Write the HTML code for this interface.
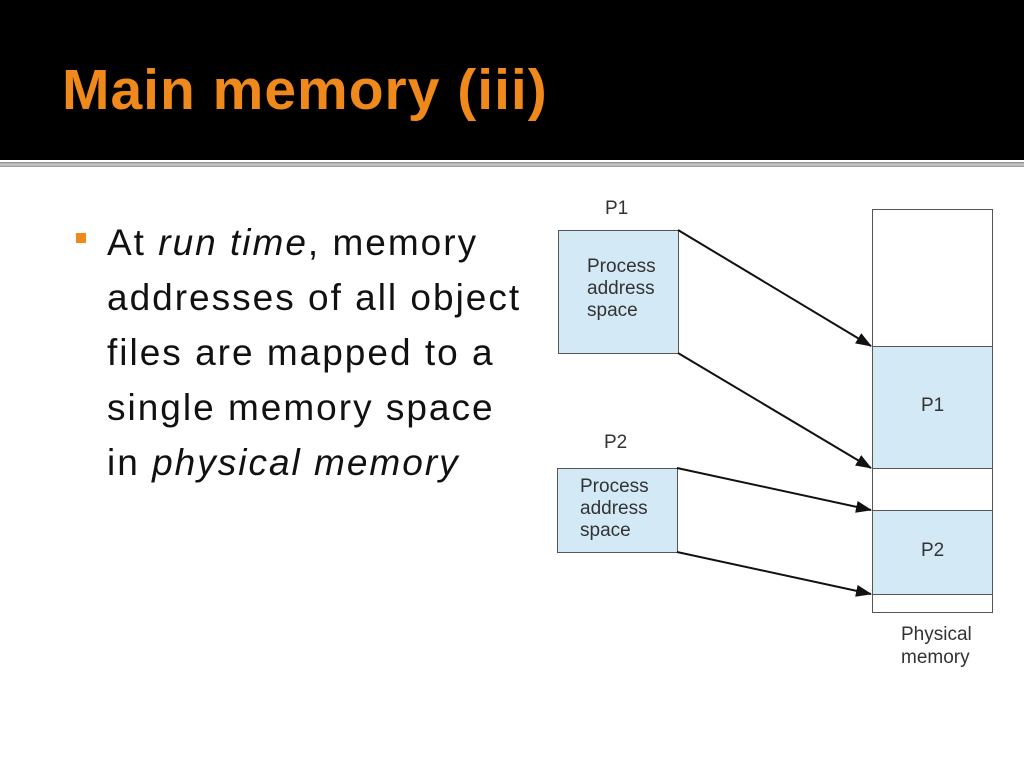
<!DOCTYPE html>
<html><head><meta charset="utf-8"><style>
body{margin:0;width:1024px;height:768px;background:#fff;position:relative;overflow:hidden;font-family:"Liberation Sans",sans-serif}
.hdr{position:absolute;left:0;top:0;width:1024px;height:160px;background:#000}
.line{position:absolute;left:0;top:162px;width:1024px;height:5px;background:linear-gradient(#888,#ccc,#999)}
.title{position:absolute;left:62px;top:57px;font-size:57px;font-weight:bold;color:#f0891c;letter-spacing:1px}
.bul{position:absolute;left:76px;top:233px;width:10px;height:10px;background:#f0891c}
.txt{position:absolute;left:107px;top:215px;font-size:37px;line-height:55px;color:#111;width:460px;letter-spacing:2px;white-space:nowrap}
</style></head><body>
<div class="hdr"></div><div class="line"></div>
<div class="title">Main memory (iii)</div>
<div class="bul"></div>
<div class="txt">At <i>run time</i>, memory<br>addresses of all object<br>files are mapped to a<br>single memory space<br>in <i>physical memory</i></div>
<svg width="1024" height="768" style="position:absolute;left:0;top:0" font-family="Liberation Sans,sans-serif" font-size="19" fill="#333">
<defs><marker id="a" markerWidth="16" markerHeight="12" refX="15" refY="6" orient="auto" markerUnits="userSpaceOnUse"><path d="M0,0 L16,6 L0,12 Z" fill="#111"/></marker></defs>
<rect x="558.5" y="230.5" width="120" height="123" fill="#d3eaf6" stroke="#555"/>
<rect x="557.5" y="468.5" width="120" height="84" fill="#d3eaf6" stroke="#555"/>
<rect x="872.5" y="209.5" width="120" height="403" fill="#fff" stroke="#555"/>
<rect x="872.5" y="346.5" width="120" height="122" fill="#d3eaf6" stroke="#555"/>
<rect x="872.5" y="510.5" width="120" height="84" fill="#d3eaf6" stroke="#555"/>
<g stroke="#111" stroke-width="2" marker-end="url(#a)">
<line x1="678" y1="230" x2="871" y2="346"/>
<line x1="678" y1="353" x2="871" y2="468"/>
<line x1="677" y1="468" x2="871" y2="510"/>
<line x1="677" y1="552" x2="871" y2="594"/>
</g>
<text x="605" y="214">P1</text>
<text x="604" y="448">P2</text>
<text x="587" y="272">Process</text><text x="587" y="294">address</text><text x="587" y="316">space</text>
<text x="580" y="492">Process</text><text x="580" y="514">address</text><text x="580" y="536">space</text>
<text x="921" y="411">P1</text><text x="921" y="556">P2</text>
<text x="901" y="640">Physical</text><text x="901" y="663">memory</text>
</svg>
</body></html>
